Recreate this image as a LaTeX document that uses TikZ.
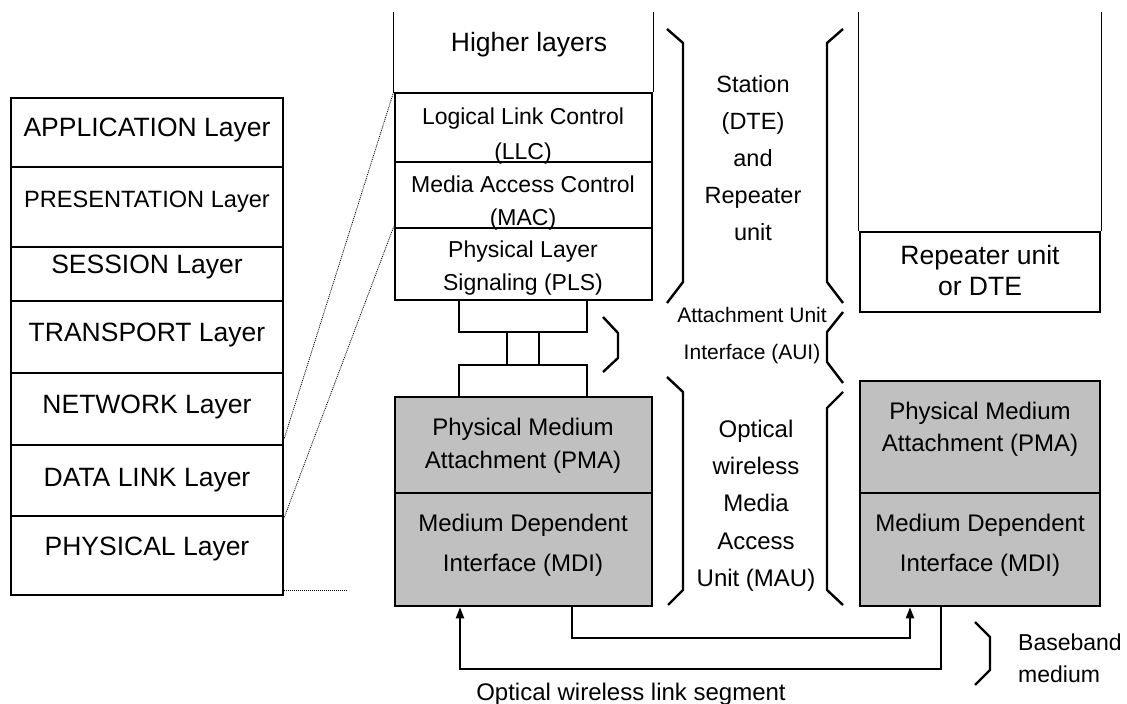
\documentclass[tikz,border=0pt]{standalone}
\usepackage{fontspec}
\setmainfont{Liberation Sans}
\usetikzlibrary{arrows.meta}
\definecolor{mediumgray}{RGB}{192,192,192}

\begin{document}
\begin{tikzpicture}[x=1pt,y=-1pt,
  stackbox/.style={draw,line width=2.6pt,inner sep=0pt},
  osibox/.style={stackbox,minimum width=272pt},
  maubox/.style={stackbox,fill=mediumgray},
  openside/.style={line width=1pt},
  brace/.style={line width=2.4pt},
  zoomline/.style={line width=0.8pt,dash pattern=on 1pt off 1pt},
  link/.style={line width=2pt,-{Triangle[length=11pt,width=8pt]}},
  bigtxt/.style={align=center,font=\fontsize{26.5}{31}\selectfont},
  midtxt/.style={align=center,font=\fontsize{24}{33}\selectfont},
  smalltxt/.style={align=center,font=\fontsize{23}{33}\selectfont}]
\useasboundingbox (0,0) rectangle (1127,704);

% OSI reference model
\node[osibox,minimum height=69pt] (app) at (147,132.5) {};
\node[osibox,minimum height=80pt] (pres) at (147,207) {};
\node[osibox,minimum height=54pt] (sess) at (147,274) {};
\node[osibox,minimum height=72pt] (trans) at (147,337) {};
\node[osibox,minimum height=72pt] (net) at (147,409) {};
\node[osibox,minimum height=71pt] (dl) at (147,480.5) {};
\node[osibox,minimum height=79pt] (phys) at (147,555.5) {};
\node[bigtxt] (apptxt) at (147,130) {APPLICATION Layer};
\node[smalltxt,font=\fontsize{23.6}{28}\selectfont] (prestxt) at (147,202) {PRESENTATION Layer};
\node[bigtxt] (sesstxt) at (147,267) {SESSION Layer};
\node[bigtxt] (transtxt) at (147,335) {TRANSPORT Layer};
\node[bigtxt] (nettxt) at (147,407) {NETWORK Layer};
\node[bigtxt] (dltxt) at (147,480) {DATA LINK Layer};
\node[bigtxt] (phystxt) at (147,549) {PHYSICAL Layer};

% station stack
\node[stackbox,minimum width=257pt,minimum height=69pt] (llc) at (523.5,127.5) {};
\node[stackbox,minimum width=257pt,minimum height=66pt] (mac) at (523.5,195) {};
\node[stackbox,minimum width=257pt,minimum height=72pt] (pls) at (523.5,264) {};
\draw[openside] (llc.north west) -- ++(0,-80);
\draw[openside] (llc.north east) -- ++(0,-80);
\node[bigtxt] (higher) at (529,45) {Higher layers};
\node[smalltxt,font=\fontsize{23}{35}\selectfont] (llctxt) at (523,136.5) {Logical Link Control\\(LLC)};
\node[smalltxt] (mactxt) at (523,203.5) {Media Access Control\\(MAC)};
\node[smalltxt] (plstxt) at (523,268.5) {Physical Layer\\Signaling (PLS)};

% AUI connector
\node[stackbox,minimum width=128pt,minimum height=32pt] (auitop) at (523,316) {};
\node[stackbox,minimum width=32pt,minimum height=33pt] (auicable) at (523,348.5) {};
\node[stackbox,minimum width=128pt,minimum height=32pt] (auibot) at (523,381) {};

% MAU
\node[maubox,minimum width=257pt,minimum height=96pt] (pma) at (523.5,445) {};
\node[maubox,minimum width=257pt,minimum height=113pt] (mdi) at (523.5,549.5) {};
\node[midtxt] (pmatxt) at (523,445.5) {Physical Medium\\Attachment (PMA)};
\node[midtxt,font=\fontsize{24}{40}\selectfont] (mditxt) at (523,545) {Medium Dependent\\Interface (MDI)};

% zoom lines
\draw[zoomline] ([yshift=8pt]net.south east) -- (llc.north west);
\draw[zoomline] (dl.south east) -- (pls.north west);
\coordinate (zoomend) at (348,590);
\draw[zoomline] (zoomend -| phys.east) -- (zoomend);

% repeater unit or DTE
\node[stackbox,minimum width=240pt,minimum height=80pt] (rep) at (980,272) {};
\draw[openside] (rep.north west) -- ++(0,-219);
\draw[openside] (rep.north east) -- ++(0,-219);
\node[bigtxt] (reptxt) at (980,270.5) {Repeater unit\\or DTE};
\node[maubox,minimum width=240pt,minimum height=112pt] (rpma) at (980,437) {};
\node[maubox,minimum width=240pt,minimum height=113pt] (rmdi) at (980,549.5) {};
\node[midtxt,font=\fontsize{24}{32}\selectfont] (rpmatxt) at (980,429) {Physical Medium\\Attachment (PMA)};
\node[midtxt,font=\fontsize{24}{40}\selectfont] (rmditxt) at (980,545) {Medium Dependent\\Interface (MDI)};

% braces
\draw[brace] (667,29) -- (683,43) -- (683,282) -- (667,303);
\draw[brace] (843,29) -- (827,43) -- (827,282) -- (843,303);
\draw[brace] (603,317) -- (618,333) -- (618,358) -- (603,372);
\draw[brace] (843,312) -- (827,332) -- (827,362) -- (843,383);
\draw[brace] (667,377) -- (683,392) -- (683,590) -- (668,605);
\draw[brace] (843,392) -- (827,408) -- (827,590) -- (843,605);
\draw[brace] (975,622) -- (990,637) -- (990,670) -- (975,685);
\node[smalltxt,font=\fontsize{23.5}{37}\selectfont] (station) at (753,158) {Station\\(DTE)\\and\\Repeater\\unit};
\node[smalltxt,font=\fontsize{21}{37}\selectfont] (aui) at (752,335.5) {Attachment Unit\\Interface (AUI)};
\node[midtxt,font=\fontsize{24}{37.3}\selectfont] (mau) at (756,505.5) {Optical\\wireless\\Media\\Access\\Unit (MAU)};
\node[midtxt,align=left,anchor=west,inner sep=0pt,font=\fontsize{23}{32}\selectfont] (baseband) at (1018,658) {Baseband\\medium};

% link segment
\draw[link] ([xshift=48.5pt]mdi.south) -- ++(0,31) -| ([xshift=-70pt]rmdi.south);
\draw[link] ([xshift=-39pt]rmdi.south) -- ++(0,62) -| ([xshift=-63.5pt]mdi.south);
\node[midtxt] (segment) at (631,694) {Optical wireless link segment};
\end{tikzpicture}
\end{document}
